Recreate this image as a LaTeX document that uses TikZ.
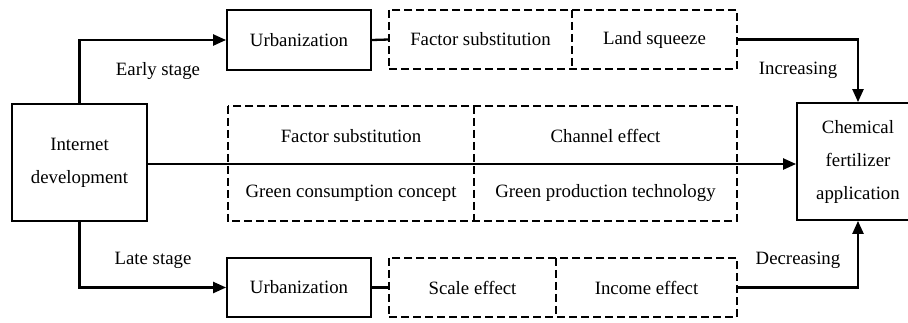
\documentclass[tikz,border=0pt]{standalone}
\usepackage{fontspec}
\setmainfont{Liberation Serif}
\usetikzlibrary{arrows.meta,calc}
\begin{document}
\begin{tikzpicture}[x=1pt,y=-1pt,
  every node/.style={font=\fontsize{18.8}{33}\selectfont},
  solidbox/.style={draw,line width=1.8pt,inner sep=0pt,align=center},
  cell/.style={inner sep=0pt,align=center},
  dashline/.style={line width=1.6pt,dash pattern=on 8pt off 4pt},
  link/.style={line width=2.3pt},
  flow/.style={line width=2.3pt,-{Triangle[length=13pt,width=11pt]}},
  lbl/.style={inner sep=0pt}]
\useasboundingbox (0,0) rectangle (908,322);

% main boxes
\node[solidbox,minimum width=135pt,minimum height=117pt] (inet) at (79.5,162.5) {Internet\\development};
\node[solidbox,minimum width=122pt,minimum height=117pt] (chem) at (858,161.5) {Chemical\\fertilizer\\application};

% early stage branch
\node[solidbox,minimum width=144pt,minimum height=60pt] (urbA) at (299,40) {Urbanization};
\node[cell,minimum width=183pt,minimum height=59pt] (fsA) at (480.5,39.5) {Factor substitution};
\node[cell,minimum width=165pt,minimum height=59pt] (lsA) at (654.5,39.5) {Land squeeze};
\draw[dashline] (fsA.north west) rectangle (lsA.south east);
\draw[dashline] (fsA.north east) -- (fsA.south east);

% late stage branch
\node[solidbox,minimum width=144pt,minimum height=59pt] (urbB) at (299,287.5) {Urbanization};
\node[cell,minimum width=167pt,minimum height=59pt] (seB) at (472.5,287.5) {Scale effect};
\node[cell,minimum width=181pt,minimum height=59pt] (ieB) at (646.5,287.5) {Income effect};
\draw[dashline] (seB.north west) rectangle (ieB.south east);
\draw[dashline] (seB.north east) -- (seB.south east);

% middle mechanisms
\node[cell,minimum width=246pt,minimum height=115pt] (mL) at (351,163.5) {};
\node[cell,minimum width=263pt,minimum height=115pt] (mR) at (605.5,163.5) {};
\draw[dashline] (mL.north west) rectangle (mR.south east);
\draw[dashline] (mL.north east) -- (mL.south east);
\node[lbl] (m1) at (351,136) {Factor substitution};
\node[lbl] (m2) at (605.5,136) {Channel effect};
\node[lbl] (m3) at (351,193) {Green consumption concept};
\node[lbl] (m4) at (605.5,193) {Green production technology};

% connectors
\draw[flow] (inet.north) |- (urbA.west);
\draw[link] (urbA.east) -- (fsA.west);
\draw[flow] (lsA.east) -| (chem.north);

\draw[flow] (inet.south) |- (urbB.west);
\draw[link] (urbB.east) -- (seB.west);
\draw[flow] (ieB.east) -| (chem.south);

\coordinate (axis) at ($(inet.east)+(0,1.5)$);
\draw[flow] (axis) -- (axis -| chem.west);

% stage labels
\node[lbl] (early) at (158,71) {Early stage};
\node[lbl] (late) at (153,260) {Late stage};
\node[lbl] (inc) at (798,70) {Increasing};
\node[lbl] (dec) at (798,260) {Decreasing};
\end{tikzpicture}
\end{document}
